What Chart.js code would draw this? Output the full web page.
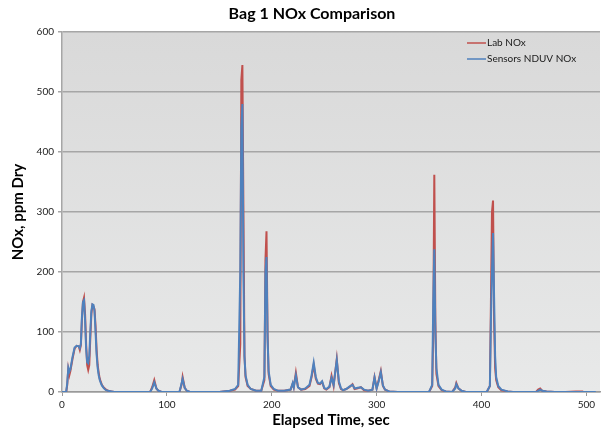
<!DOCTYPE html>
<html>
<head>
<meta charset="utf-8">
<script src="https://cdn.jsdelivr.net/npm/chart.js@4/dist/chart.umd.min.js"></script>
<style>
  html, body { margin: 0; padding: 0; background: #fff; }
  #wrap { width: 614px; height: 432px; position: relative; }
</style>
</head>
<body>
<div id="wrap"><canvas id="noxChart"></canvas></div>
<script>
// Bag 1 NOx comparison
const chartTitle = 'Bag 1 NOx Comparison';
const xTitle = 'Elapsed Time, sec';
const yTitle = 'NOx, ppm Dry';
const seriesNames = ['Lab NOx', 'Sensors NDUV NOx'];

const xTicks = [0, 100, 200, 300, 400, 500];
const yTicks = [0, 100, 200, 300, 400, 500, 600];

const elapsed = [
  0, 4, 5, 6, 7, 8, 10, 12, 14, 16, 17, 18, 19, 20, 21, 22, 23, 24, 25, 26, 27, 28, 29, 30, 31, 32, 33, 34, 35, 36, 37, 38, 40, 42, 44, 47, 50,
  84, 86, 88, 90, 92, 95,
  112, 114, 115, 117, 119, 122,
  150, 160, 165, 168, 170, 171, 172, 173, 174, 175, 177, 180, 185, 190,
  193, 194, 195, 196, 197, 199, 202, 206,
  212, 218, 220, 221, 223, 225, 228, 232, 236, 238, 240, 242, 244, 246, 248, 250, 252, 255, 257, 259, 262, 264, 266, 268, 271, 274, 277, 279, 282, 285, 288, 292, 296, 298, 300, 302, 304, 306, 308, 312,
  320, 350, 353, 354, 355, 356, 357, 359, 362, 366, 372, 375, 376, 378, 381, 385,
  405, 408, 409, 410, 411, 412, 413, 414, 416, 419, 425, 430,
  452, 454, 456, 458, 462, 470, 480, 490, 497, 509
];

const labNox = [
  0, 0, 12, 38, 28, 35, 55, 72, 77, 76, 70, 78, 120, 150, 157, 130, 80, 45, 37, 45, 90, 130, 145, 143, 138, 110, 70, 45, 32, 22, 17, 12, 7, 4, 2, 1, 0,
  0, 8, 20, 6, 2, 0,
  0, 12, 25, 7, 2, 0,
  0, 2, 4, 10, 80, 520, 545, 300, 60, 25, 10, 5, 2, 2,
  20, 220, 268, 100, 30, 10, 4, 2,
  2, 4, 14, 8, 32, 8, 4, 5, 10, 25, 45, 22, 14, 13, 17, 6, 4, 8, 27, 10, 55, 15, 5, 3, 5, 8, 13, 5, 6, 8, 3, 2, 4, 25, 6, 20, 35, 10, 4, 1,
  0, 0, 10, 100, 362, 120, 30, 10, 3, 1, 0, 8, 15, 6, 2, 0,
  0, 10, 150, 300, 319, 120, 40, 20, 8, 3, 1, 0,
  0, 4, 6, 2, 1, 0, 0, 1, 1, null
];

const sensorNox = [
  0, 0, 15, 40, 34, 38, 58, 74, 77, 76, 73, 80, 125, 150, 153, 120, 72, 50, 48, 60, 100, 135, 146, 145, 135, 100, 62, 40, 28, 20, 15, 11, 6, 3, 2, 1, 0,
  0, 6, 16, 6, 2, 0,
  0, 14, 22, 7, 2, 0,
  0, 2, 5, 12, 200, 440, 480, 200, 60, 28, 12, 5, 2, 2,
  25, 200, 225, 90, 35, 12, 5, 2,
  2, 4, 15, 8, 28, 8, 4, 6, 12, 28, 49, 25, 15, 14, 18, 7, 5, 9, 24, 12, 53, 18, 6, 3, 5, 9, 12, 6, 7, 8, 4, 2, 4, 24, 6, 18, 33, 11, 4, 1,
  0, 0, 12, 150, 238, 100, 40, 12, 4, 1, 0, 6, 13, 6, 2, 0,
  0, 10, 120, 200, 265, 160, 60, 25, 10, 4, 1, 0,
  0, 2, 4, 2, 1, 0, 0, 0, 0, 0
];

const FONT = 'Lato, "Open Sans", sans-serif';

function toPoints(xs, ys) {
  return xs.map((x, i) => ({ x: x, y: ys[i] }));
}

// gray gradient behind the plot, like the old Excel default
const plotBackground = {
  id: 'plotBackground',
  beforeDraw(chart) {
    const { ctx, chartArea: a } = chart;
    const g = ctx.createLinearGradient(0, a.top, 0, a.bottom);
    g.addColorStop(0, '#d9d9d9');
    g.addColorStop(1, '#e8e9e9');
    ctx.save();
    ctx.fillStyle = g;
    ctx.fillRect(a.left, a.top, a.right - a.left, a.bottom - a.top);
    ctx.restore();
  }
};

// title, axis titles and the in-plot legend
const chartText = {
  id: 'chartText',
  afterDraw(chart) {
    const { ctx, chartArea: a } = chart;
    ctx.save();
    ctx.fillStyle = '#000';
    ctx.textBaseline = 'middle';
    ctx.textAlign = 'center';
    ctx.font = 'bold 16px ' + FONT;
    ctx.fillText(chartTitle, 312, 14);

    ctx.font = 'bold 15px ' + FONT;
    ctx.fillText(xTitle, (a.left + a.right) / 2, 420);

    ctx.translate(18, 212);
    ctx.rotate(-Math.PI / 2);
    ctx.fillText(yTitle, 0, 0);
    ctx.restore();

    // legend
    ctx.save();
    const colors = chart.data.datasets.map(d => d.borderColor);
    ctx.font = '10px ' + FONT;
    ctx.textBaseline = 'middle';
    ctx.textAlign = 'left';
    seriesNames.forEach((name, i) => {
      const y = 43 + i * 16;
      ctx.strokeStyle = colors[i];
      ctx.lineWidth = 1.5;
      ctx.beginPath();
      ctx.moveTo(467, y);
      ctx.lineTo(486, y);
      ctx.stroke();
      ctx.fillStyle = '#1a1a1a';
      ctx.fillText(name, 487, y);
    });
    ctx.restore();
  }
};

const ctx = document.getElementById('noxChart').getContext('2d');
const noxChart = new Chart(ctx, {
  type: 'line',
  data: {
    datasets: [{
      label: seriesNames[0],
      data: toPoints(elapsed, labNox),
      borderColor: '#c0504d',
      borderWidth: 2,
      pointRadius: 0,
      tension: 0,
      order: 1
    }, {
      label: seriesNames[1],
      data: toPoints(elapsed, sensorNox),
      borderColor: '#4f81bd',
      borderWidth: 2,
      pointRadius: 0,
      tension: 0,
      order: 0
    }]
  },
  options: {
    responsive: true,
    maintainAspectRatio: false,
    animation: false,
    layout: { padding: { left: 0, top: 32, right: 14, bottom: 0 } },
    plugins: {
      legend: { display: false },
      title: { display: false },
      tooltip: { enabled: false }
    },
    scales: {
      x: {
        type: 'linear',
        min: 0,
        max: 513,
        afterBuildTicks: (scale) => { scale.ticks = xTicks.map(v => ({ value: v })); },
        afterFit: (scale) => { scale.height = 40; },
        grid: { drawOnChartArea: false, drawTicks: true, tickLength: 4, color: '#9a9a9a' },
        border: { color: '#9a9a9a', width: 1.5 },
        ticks: { font: { family: FONT, size: 10 }, color: '#222', padding: 3, maxRotation: 0 }
      },
      y: {
        min: 0,
        max: 600,
        afterBuildTicks: (scale) => { scale.ticks = yTicks.map(v => ({ value: v })); },
        afterFit: (scale) => { scale.width = 62; },
        grid: { color: '#a6a6a6', lineWidth: 1.5, tickLength: 4 },
        border: { color: '#a6a6a6', width: 1.5 },
        ticks: { font: { family: FONT, size: 10 }, color: '#222', padding: 4 }
      }
    }
  },
  plugins: [plotBackground, chartText]
});
</script>
</body>
</html>
